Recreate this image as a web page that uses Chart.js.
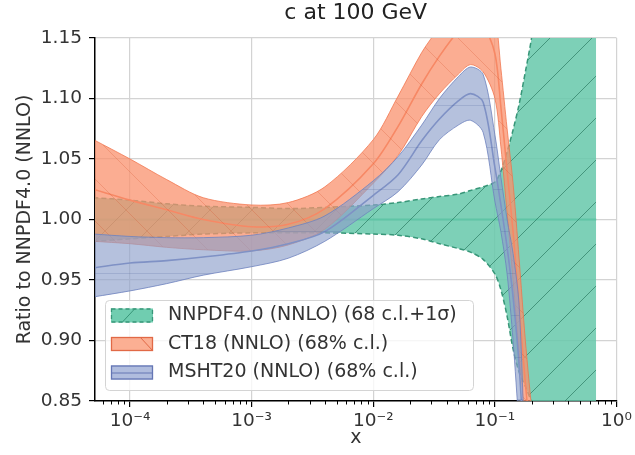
<!DOCTYPE html>
<html>
<head>
<meta charset="utf-8">
<script src="https://cdn.jsdelivr.net/npm/chart.js@4.4.1/dist/chart.umd.min.js"></script>
<style>
  html, body { margin: 0; padding: 0; background: #fff; }
</style>
</head>
<body>
<canvas id="chart" width="635" height="455"></canvas>
<script>
// x grid shared by the three PDF sets
const xValues = [5e-5, 1e-4, 2e-4, 4e-4, 1e-3, 2e-3, 4e-3, 1e-2, 0.016, 0.025, 0.035, 0.05,
                 0.063, 0.08, 0.1, 0.112, 0.126, 0.141, 0.158, 0.178, 0.2, 0.25, 0.4, 0.68];

// NNPDF4.0 band (68 c.l. + 1 sigma)
const nnpdfCentral = [1, 1, 1, 1, 1, 1, 1, 1, 1, 1, 1, 1, 1, 1, 1, 1, 1, 1, 1, 1, 1, 1, 1, 1];
const nnpdfUpper = [1.018, 1.016, 1.013, 1.011, 1.010, 1.009, 1.010, 1.012, 1.014, 1.017, 1.019, 1.021,
                    1.024, 1.027, 1.031, 1.040, 1.056, 1.074, 1.095, 1.122, 1.150, 1.220, 1.500, 2.000];
const nnpdfLower = [0.982, 0.984, 0.986, 0.988, 0.989, 0.989, 0.989, 0.988, 0.987, 0.984, 0.980, 0.976,
                    0.973, 0.967, 0.955, 0.942, 0.920, 0.893, 0.874, 0.862, 0.849, 0.820, 0.600, 0.300];

// CT18
const ct18Central = [1.025, 1.016, 1.008, 1.000, 0.994, 0.996, 1.009, 1.046, 1.077, 1.112, 1.135, 1.156,
                     1.167, 1.160, 1.137, 1.093, 1.040, 0.990, 0.928, 0.865, 0.810, 0.720, 0.480, 0.280];
const ct18Upper = [1.066, 1.050, 1.033, 1.018, 1.012, 1.014, 1.027, 1.066, 1.102, 1.138, 1.160, 1.190,
                   1.205, 1.200, 1.170, 1.125, 1.075, 1.030, 0.968, 0.900, 0.845, 0.750, 0.500, 0.300];
const ct18Lower = [0.982, 0.980, 0.977, 0.975, 0.974, 0.979, 0.992, 1.030, 1.053, 1.085, 1.104, 1.120,
                   1.128, 1.122, 1.100, 1.060, 1.005, 0.950, 0.890, 0.830, 0.780, 0.690, 0.460, 0.260];

// MSHT20
const mshtCentral = [0.960, 0.964, 0.966, 0.969, 0.974, 0.980, 0.990, 1.020, 1.037, 1.065, 1.083, 1.098,
                     1.104, 1.097, 1.043, 1.012, 0.977, 0.936, 0.880, 0.790, 0.690, 0.580, 0.380, 0.240];
const mshtUpper = [0.988, 0.986, 0.985, 0.985, 0.987, 0.993, 1.003, 1.032, 1.052, 1.078, 1.100, 1.118,
                   1.126, 1.120, 1.070, 1.035, 1.000, 0.972, 0.930, 0.800, 0.700, 0.600, 0.400, 0.250];
const mshtLower = [0.936, 0.941, 0.947, 0.954, 0.961, 0.968, 0.982, 1.009, 1.023, 1.045, 1.066, 1.078,
                   1.082, 1.072, 1.015, 0.990, 0.955, 0.900, 0.830, 0.770, 0.680, 0.560, 0.360, 0.230];

const legendLabels = ['NNPDF4.0 (NNLO) (68 c.l.+1σ)', 'CT18 (NNLO) (68% c.l.)', 'MSHT20 (NNLO) (68% c.l.)'];
const xTickValues = [1e-4, 1e-3, 1e-2, 1e-1, 1];
const xTickLabels = ['10⁻⁴', '10⁻³', '10⁻²', '10⁻¹', '10⁰'];
const yTickValues = [0.85, 0.90, 0.95, 1.00, 1.05, 1.10, 1.15];

Chart.defaults.font.family = '"DejaVu Sans", sans-serif';

function toPoints(values) {
    return xValues.map((x, i) => ({ x: x, y: values[i] }));
}

// hatched fill like matplotlib's hatch='/', '\\' or '-'
function makeHatch(fill, stroke, kind) {
    const s = 42;
    const c = document.createElement('canvas');
    c.width = s;
    c.height = s;
    const g = c.getContext('2d');
    g.fillStyle = fill;
    g.fillRect(0, 0, s, s);
    g.strokeStyle = stroke;
    g.lineWidth = 1;
    g.beginPath();
    if (kind === '/') {
        g.moveTo(-1, s + 1);
        g.lineTo(s + 1, -1);
    } else if (kind === '\\') {
        g.moveTo(-1, -1);
        g.lineTo(s + 1, s + 1);
    } else {
        g.moveTo(0, s / 2 + 0.5);
        g.lineTo(s, s / 2 + 0.5);
    }
    g.stroke();
    return g.createPattern(c, 'repeat');
}

const tealHatch = makeHatch('rgba(102,200,170,0.85)', 'rgba(30,110,85,0.6)', '/');
const orangeHatch = makeHatch('rgba(250,145,110,0.75)', 'rgba(210,80,40,0.25)', '\\');
const blueHatch = makeHatch('rgba(141,160,203,0.65)', 'rgba(70,90,150,0.2)', '-');

function line(values, color, width, extra) {
    return Object.assign({
        data: toPoints(values),
        borderColor: color,
        borderWidth: width,
        pointRadius: 0,
        fill: false,
        tension: 0.3,
        clip: 0
    }, extra || {});
}

// order matters: fills are painted last-to-first, so NNPDF ends up underneath
const datasets = [
    line(mshtLower, 'rgba(110,130,190,0.8)', 1),
    line(mshtUpper, 'rgba(110,130,190,0.8)', 1, { fill: '-1', backgroundColor: blueHatch }),
    line(mshtCentral, 'rgb(100,118,185)', 1.6),
    line(ct18Lower, 'rgba(240,115,75,0.75)', 1),
    line(ct18Upper, 'rgba(240,115,75,0.75)', 1, { fill: '-1', backgroundColor: orangeHatch }),
    line(ct18Central, 'rgb(238,110,75)', 1.6),
    line(nnpdfLower, 'rgb(55,150,120)', 1.5, { borderDash: [5, 3] }),
    line(nnpdfUpper, 'rgb(55,150,120)', 1.5, { borderDash: [5, 3], fill: '-1', backgroundColor: tealHatch }),
    line(nnpdfCentral, 'rgb(55,178,140)', 2.2)
];

const minorTicks = {
    id: 'minorTicks',
    afterDraw(chart) {
        const xs = chart.scales.x;
        const ctx = chart.ctx;
        ctx.save();
        ctx.strokeStyle = '#000';
        ctx.lineWidth = 1;
        for (let d = -5; d < 0; d++) {
            for (let k = 2; k < 10; k++) {
                const v = k * Math.pow(10, d);
                if (v < xs.min || v > xs.max) continue;
                const px = Math.round(xs.getPixelForValue(v)) + 0.5;
                ctx.beginPath();
                ctx.moveTo(px, xs.top);
                ctx.lineTo(px, xs.top + 3.5);
                ctx.stroke();
            }
        }
        ctx.restore();
    }
};

const bandLegend = {
    id: 'bandLegend',
    afterDraw(chart) {
        const ctx = chart.ctx;
        ctx.save();
        ctx.beginPath();
        ctx.roundRect(105.5, 300.5, 368, 90, 4);
        ctx.fillStyle = 'rgba(255,255,255,0.8)';
        ctx.fill();
        ctx.strokeStyle = '#d4d4d4';
        ctx.lineWidth = 1;
        ctx.stroke();

        const rows = [315.5, 344, 372.5];
        const px = 111, pw = 42, ph = 14;
        const fills = ['rgb(112,205,176)', 'rgb(251,175,147)', 'rgb(176,189,222)'];
        const edges = ['rgb(55,150,120)', 'rgb(225,105,70)', 'rgb(100,118,180)'];

        rows.forEach((cy, i) => {
            const top = cy - ph / 2;
            ctx.fillStyle = fills[i];
            ctx.fillRect(px, top, pw, ph);
            ctx.strokeStyle = edges[i];
            ctx.lineWidth = 1;
            ctx.beginPath();
            if (i === 0) {
                ctx.moveTo(px + 11, top + ph);
                ctx.lineTo(px + 24, top);
            } else if (i === 1) {
                ctx.moveTo(px + 29, top);
                ctx.lineTo(px + 42, top + ph);
            } else {
                ctx.moveTo(px, cy + 0.5);
                ctx.lineTo(px + pw, cy + 0.5);
            }
            ctx.stroke();
            ctx.setLineDash(i === 0 ? [4, 3] : []);
            ctx.lineWidth = 1.3;
            ctx.strokeRect(px + 0.5, top + 0.5, pw - 1, ph - 1);
            ctx.setLineDash([]);

            ctx.fillStyle = '#333';
            ctx.font = '19px "DejaVu Sans"';
            ctx.textBaseline = 'middle';
            ctx.textAlign = 'left';
            ctx.fillText(legendLabels[i], 168, cy);
        });
        ctx.restore();
    }
};

new Chart(document.getElementById('chart'), {
    type: 'line',
    data: { datasets: datasets },
    options: {
        responsive: false,
        animation: false,
        layout: { padding: { left: 0, right: 18, top: 0, bottom: 0 } },
        plugins: {
            legend: { display: false },
            tooltip: { enabled: false },
            title: {
                display: true,
                text: 'c at 100 GeV',
                fullSize: false,
                color: '#222',
                font: { size: 22, weight: 'normal' },
                padding: { top: 0, bottom: 11.6 }
            }
        },
        scales: {
            x: {
                type: 'logarithmic',
                min: 5.15e-5,
                max: 1,
                afterBuildTicks: (scale) => {
                    scale.ticks = xTickValues.map((v) => ({ value: v, major: true }));
                },
                afterFit: (scale) => { scale.height = 54; },
                ticks: {
                    autoSkip: false,
                    maxRotation: 0,
                    padding: 3,
                    color: '#333',
                    font: { size: 18.5 },
                    callback: (value, index) => xTickLabels[index]
                },
                grid: { color: '#d3d3d3', lineWidth: 1.2, tickLength: 6, tickColor: '#000', tickWidth: 1.2 },
                border: { color: '#000', width: 1.5 },
                title: {
                    display: true,
                    text: 'x',
                    color: '#333',
                    font: { size: 19 },
                    padding: { top: 0, bottom: 5.2 }
                }
            },
            y: {
                min: 0.85,
                max: 1.15,
                afterBuildTicks: (scale) => {
                    scale.ticks = yTickValues.map((v) => ({ value: v }));
                },
                afterFit: (scale) => { scale.width = 95; },
                ticks: {
                    padding: 7,
                    color: '#333',
                    font: { size: 18.5 },
                    callback: (value) => Number(value).toFixed(2)
                },
                grid: { color: '#d3d3d3', lineWidth: 1.2, tickLength: 6, tickColor: '#000', tickWidth: 1.2 },
                border: { color: '#000', width: 1.5 },
                title: {
                    display: true,
                    text: 'Ratio to NNPDF4.0 (NNLO)',
                    color: '#333',
                    font: { size: 19 },
                    padding: { top: 14, bottom: 0 }
                }
            }
        }
    },
    plugins: [minorTicks, bandLegend]
});
</script>
</body>
</html>
